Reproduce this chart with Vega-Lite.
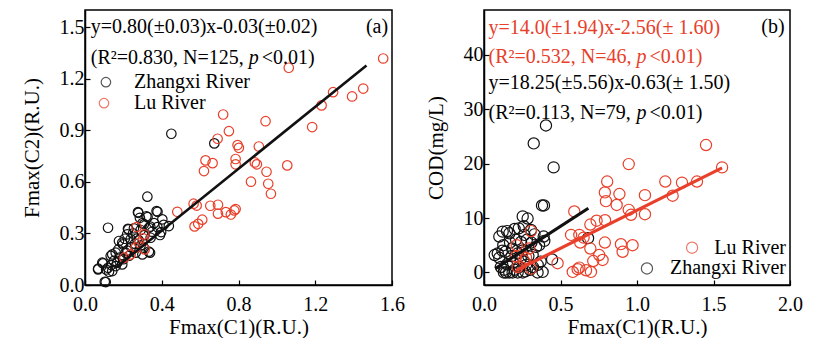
{
  "$schema": "https://vega.github.io/schema/vega-lite/v6.json",
  "padding": {"left": 20, "top": 9, "right": 0, "bottom": 0},
  "background": "white",
  "config": {
    "font": "Liberation Serif",
    "view": {"stroke": "black", "strokeWidth": 1.5},
    "axis": {
      "labelFont": "Liberation Serif", "labelFontSize": 20, "labelColor": "black",
      "titleFont": "Liberation Serif", "titleFontSize": 21, "titleFontWeight": "normal", "titleColor": "black",
      "domainColor": "black", "domainWidth": 1.5, "tickColor": "black", "tickWidth": 1.2, "tickSize": -5,
      "grid": false, "labelOverlap": false, "labelFlush": false, "labelBound": false
    },
    "axisX": {"labelPadding": 14, "titlePadding": 2},
    "axisY": {"labelPadding": 6, "titlePadding": 17},
    "text": {"font": "Liberation Serif", "fontSize": 20, "baseline": "middle"}
  },
  "datasets": {
    "one": [{"k": 1}],
    "a": [
      {"river": "Zhangxi River", "x": 0.450, "y": 0.880}, {"river": "Zhangxi River", "x": 0.674, "y": 0.824},
      {"river": "Zhangxi River", "x": 0.325, "y": 0.514}, {"river": "Zhangxi River", "x": 0.120, "y": 0.333},
      {"river": "Zhangxi River", "x": 0.276, "y": 0.424}, {"river": "Zhangxi River", "x": 0.286, "y": 0.391},
      {"river": "Zhangxi River", "x": 0.326, "y": 0.395}, {"river": "Zhangxi River", "x": 0.373, "y": 0.430},
      {"river": "Zhangxi River", "x": 0.403, "y": 0.382}, {"river": "Zhangxi River", "x": 0.377, "y": 0.337},
      {"river": "Zhangxi River", "x": 0.397, "y": 0.308}, {"river": "Zhangxi River", "x": 0.391, "y": 0.291},
      {"river": "Zhangxi River", "x": 0.437, "y": 0.343}, {"river": "Zhangxi River", "x": 0.333, "y": 0.333},
      {"river": "Zhangxi River", "x": 0.307, "y": 0.353}, {"river": "Zhangxi River", "x": 0.342, "y": 0.275},
      {"river": "Zhangxi River", "x": 0.224, "y": 0.327}, {"river": "Zhangxi River", "x": 0.207, "y": 0.269},
      {"river": "Zhangxi River", "x": 0.238, "y": 0.266}, {"river": "Zhangxi River", "x": 0.194, "y": 0.246},
      {"river": "Zhangxi River", "x": 0.174, "y": 0.207}, {"river": "Zhangxi River", "x": 0.142, "y": 0.178},
      {"river": "Zhangxi River", "x": 0.212, "y": 0.188}, {"river": "Zhangxi River", "x": 0.333, "y": 0.194},
      {"river": "Zhangxi River", "x": 0.307, "y": 0.217}, {"river": "Zhangxi River", "x": 0.264, "y": 0.188},
      {"river": "Zhangxi River", "x": 0.168, "y": 0.130}, {"river": "Zhangxi River", "x": 0.137, "y": 0.116},
      {"river": "Zhangxi River", "x": 0.194, "y": 0.120}, {"river": "Zhangxi River", "x": 0.094, "y": 0.126},
      {"river": "Zhangxi River", "x": 0.069, "y": 0.095}, {"river": "Zhangxi River", "x": 0.142, "y": 0.081},
      {"river": "Zhangxi River", "x": 0.125, "y": 0.077}, {"river": "Zhangxi River", "x": 0.103, "y": 0.019},
      {"river": "Zhangxi River", "x": 0.339, "y": 0.188}, {"river": "Zhangxi River", "x": 0.299, "y": 0.178},
      {"river": "Zhangxi River", "x": 0.220, "y": 0.295}, {"river": "Zhangxi River", "x": 0.226, "y": 0.324},
      {"river": "Zhangxi River", "x": 0.177, "y": 0.256}, {"river": "Zhangxi River", "x": 0.198, "y": 0.236},
      {"river": "Zhangxi River", "x": 0.160, "y": 0.188}, {"river": "Zhangxi River", "x": 0.134, "y": 0.169},
      {"river": "Zhangxi River", "x": 0.090, "y": 0.130}, {"river": "Zhangxi River", "x": 0.068, "y": 0.091},
      {"river": "Zhangxi River", "x": 0.108, "y": 0.017}, {"river": "Zhangxi River", "x": 0.278, "y": 0.420},
      {"river": "Zhangxi River", "x": 0.378, "y": 0.426}, {"river": "Zhangxi River", "x": 0.250, "y": 0.300},
      {"river": "Zhangxi River", "x": 0.270, "y": 0.270}, {"river": "Zhangxi River", "x": 0.290, "y": 0.320},
      {"river": "Zhangxi River", "x": 0.310, "y": 0.290}, {"river": "Zhangxi River", "x": 0.350, "y": 0.310},
      {"river": "Zhangxi River", "x": 0.360, "y": 0.360}, {"river": "Zhangxi River", "x": 0.320, "y": 0.400},
      {"river": "Zhangxi River", "x": 0.240, "y": 0.220}, {"river": "Zhangxi River", "x": 0.220, "y": 0.200},
      {"river": "Zhangxi River", "x": 0.260, "y": 0.240}, {"river": "Zhangxi River", "x": 0.290, "y": 0.230},
      {"river": "Zhangxi River", "x": 0.180, "y": 0.160}, {"river": "Zhangxi River", "x": 0.150, "y": 0.140},
      {"river": "Zhangxi River", "x": 0.120, "y": 0.100}, {"river": "Zhangxi River", "x": 0.200, "y": 0.150},
      {"river": "Zhangxi River", "x": 0.280, "y": 0.260}, {"river": "Zhangxi River", "x": 0.340, "y": 0.340},
      {"river": "Zhangxi River", "x": 0.410, "y": 0.350}, {"river": "Zhangxi River", "x": 0.300, "y": 0.360},
      {"river": "Zhangxi River", "x": 0.230, "y": 0.170}, {"river": "Zhangxi River", "x": 0.160, "y": 0.110},
      {"river": "Zhangxi River", "x": 0.110, "y": 0.090}, {"river": "Zhangxi River", "x": 0.255, "y": 0.330},
      {"river": "Lu River", "x": 1.554, "y": 1.318}, {"river": "Lu River", "x": 1.062, "y": 1.264},
      {"river": "Lu River", "x": 1.293, "y": 1.122}, {"river": "Lu River", "x": 1.450, "y": 1.143},
      {"river": "Lu River", "x": 1.392, "y": 1.097}, {"river": "Lu River", "x": 1.233, "y": 1.045},
      {"river": "Lu River", "x": 1.184, "y": 0.919}, {"river": "Lu River", "x": 0.720, "y": 0.992},
      {"river": "Lu River", "x": 0.941, "y": 0.953}, {"river": "Lu River", "x": 0.750, "y": 0.895},
      {"river": "Lu River", "x": 0.691, "y": 0.851}, {"river": "Lu River", "x": 0.795, "y": 0.814},
      {"river": "Lu River", "x": 0.802, "y": 0.798}, {"river": "Lu River", "x": 0.906, "y": 0.806},
      {"river": "Lu River", "x": 0.785, "y": 0.733}, {"river": "Lu River", "x": 0.785, "y": 0.702},
      {"river": "Lu River", "x": 0.885, "y": 0.713}, {"river": "Lu River", "x": 0.896, "y": 0.702},
      {"river": "Lu River", "x": 0.628, "y": 0.725}, {"river": "Lu River", "x": 0.665, "y": 0.709},
      {"river": "Lu River", "x": 0.620, "y": 0.663}, {"river": "Lu River", "x": 1.054, "y": 0.696},
      {"river": "Lu River", "x": 0.946, "y": 0.659}, {"river": "Lu River", "x": 0.955, "y": 0.589},
      {"river": "Lu River", "x": 0.969, "y": 0.531}, {"river": "Lu River", "x": 0.865, "y": 0.601},
      {"river": "Lu River", "x": 0.566, "y": 0.473}, {"river": "Lu River", "x": 0.582, "y": 0.462},
      {"river": "Lu River", "x": 0.653, "y": 0.461}, {"river": "Lu River", "x": 0.693, "y": 0.467},
      {"river": "Lu River", "x": 0.693, "y": 0.415}, {"river": "Lu River", "x": 0.734, "y": 0.424},
      {"river": "Lu River", "x": 0.778, "y": 0.434}, {"river": "Lu River", "x": 0.785, "y": 0.442},
      {"river": "Lu River", "x": 0.760, "y": 0.410}, {"river": "Lu River", "x": 0.481, "y": 0.426},
      {"river": "Lu River", "x": 0.611, "y": 0.380}, {"river": "Lu River", "x": 0.590, "y": 0.356},
      {"river": "Lu River", "x": 0.571, "y": 0.341}, {"river": "Lu River", "x": 0.269, "y": 0.337},
      {"river": "Lu River", "x": 0.309, "y": 0.295}, {"river": "Lu River", "x": 0.304, "y": 0.271},
      {"river": "Lu River", "x": 0.281, "y": 0.246}, {"river": "Lu River", "x": 0.264, "y": 0.217},
      {"river": "Lu River", "x": 0.311, "y": 0.207}, {"river": "Lu River", "x": 0.205, "y": 0.159},
      {"river": "Lu River", "x": 0.238, "y": 0.178}
    ],
    "la": [
      {"river": "All", "x": 0.16, "y": 0.10}, {"river": "All", "x": 1.467, "y": 1.277}
    ],
    "b": [
      {"river": "Zhangxi River", "x": 0.405, "y": 27.0}, {"river": "Zhangxi River", "x": 0.325, "y": 23.7},
      {"river": "Zhangxi River", "x": 0.455, "y": 19.3}, {"river": "Zhangxi River", "x": 0.379, "y": 12.3},
      {"river": "Zhangxi River", "x": 0.392, "y": 12.3}, {"river": "Zhangxi River", "x": 0.390, "y": 6.6},
      {"river": "Zhangxi River", "x": 0.394, "y": 5.8}, {"river": "Zhangxi River", "x": 0.445, "y": 2.4},
      {"river": "Zhangxi River", "x": 0.383, "y": 0.1}, {"river": "Zhangxi River", "x": 0.253, "y": 10.3},
      {"river": "Zhangxi River", "x": 0.285, "y": 9.9}, {"river": "Zhangxi River", "x": 0.227, "y": 8.1},
      {"river": "Zhangxi River", "x": 0.307, "y": 7.8}, {"river": "Zhangxi River", "x": 0.122, "y": 7.5},
      {"river": "Zhangxi River", "x": 0.150, "y": 7.6}, {"river": "Zhangxi River", "x": 0.166, "y": 7.2},
      {"river": "Zhangxi River", "x": 0.100, "y": 6.6}, {"river": "Zhangxi River", "x": 0.126, "y": 5.0},
      {"river": "Zhangxi River", "x": 0.183, "y": 4.4}, {"river": "Zhangxi River", "x": 0.070, "y": 3.2},
      {"river": "Zhangxi River", "x": 0.100, "y": 2.7}, {"river": "Zhangxi River", "x": 0.133, "y": 0.5},
      {"river": "Zhangxi River", "x": 0.144, "y": 0.0}, {"river": "Zhangxi River", "x": 0.165, "y": 0.0},
      {"river": "Zhangxi River", "x": 0.187, "y": 0.0}, {"river": "Zhangxi River", "x": 0.220, "y": 0.0},
      {"river": "Zhangxi River", "x": 0.253, "y": 0.0}, {"river": "Zhangxi River", "x": 0.350, "y": 0.0},
      {"river": "Zhangxi River", "x": 0.275, "y": 1.4}, {"river": "Zhangxi River", "x": 0.242, "y": 5.6},
      {"river": "Zhangxi River", "x": 0.264, "y": 6.9}, {"river": "Zhangxi River", "x": 0.318, "y": 3.2},
      {"river": "Zhangxi River", "x": 0.351, "y": 1.4}, {"river": "Zhangxi River", "x": 0.340, "y": 4.7},
      {"river": "Zhangxi River", "x": 0.680, "y": 6.3}, {"river": "Zhangxi River", "x": 0.130, "y": 0.0},
      {"river": "Zhangxi River", "x": 0.200, "y": 0.5}, {"river": "Zhangxi River", "x": 0.230, "y": 1.0},
      {"river": "Zhangxi River", "x": 0.260, "y": 2.0}, {"river": "Zhangxi River", "x": 0.290, "y": 3.0},
      {"river": "Zhangxi River", "x": 0.310, "y": 5.5}, {"river": "Zhangxi River", "x": 0.210, "y": 6.0},
      {"river": "Zhangxi River", "x": 0.180, "y": 3.0}, {"river": "Zhangxi River", "x": 0.150, "y": 1.5},
      {"river": "Zhangxi River", "x": 0.120, "y": 4.0}, {"river": "Zhangxi River", "x": 0.090, "y": 3.5},
      {"river": "Zhangxi River", "x": 0.250, "y": 4.0}, {"river": "Zhangxi River", "x": 0.280, "y": 6.0},
      {"river": "Zhangxi River", "x": 0.330, "y": 7.0}, {"river": "Zhangxi River", "x": 0.360, "y": 5.0},
      {"river": "Zhangxi River", "x": 0.300, "y": 0.5}, {"river": "Zhangxi River", "x": 0.240, "y": 2.5},
      {"river": "Zhangxi River", "x": 0.200, "y": 8.0}, {"river": "Zhangxi River", "x": 0.170, "y": 5.5},
      {"river": "Zhangxi River", "x": 0.270, "y": 0.2}, {"river": "Zhangxi River", "x": 0.320, "y": 1.0},
      {"river": "Zhangxi River", "x": 0.140, "y": 3.8}, {"river": "Zhangxi River", "x": 0.190, "y": 1.8},
      {"river": "Zhangxi River", "x": 0.220, "y": 3.5}, {"river": "Zhangxi River", "x": 0.260, "y": 8.5},
      {"river": "Zhangxi River", "x": 0.370, "y": 2.0}, {"river": "Zhangxi River", "x": 0.110, "y": 1.0},
      {"river": "Lu River", "x": 1.556, "y": 19.3}, {"river": "Lu River", "x": 1.451, "y": 23.4},
      {"river": "Lu River", "x": 1.392, "y": 16.7}, {"river": "Lu River", "x": 1.294, "y": 16.5},
      {"river": "Lu River", "x": 1.233, "y": 14.1}, {"river": "Lu River", "x": 1.185, "y": 16.7},
      {"river": "Lu River", "x": 0.946, "y": 19.9}, {"river": "Lu River", "x": 1.052, "y": 14.2},
      {"river": "Lu River", "x": 1.052, "y": 10.7}, {"river": "Lu River", "x": 0.946, "y": 11.5},
      {"river": "Lu River", "x": 0.961, "y": 10.6}, {"river": "Lu River", "x": 0.971, "y": 5.0},
      {"river": "Lu River", "x": 0.906, "y": 3.8}, {"river": "Lu River", "x": 0.895, "y": 5.2},
      {"river": "Lu River", "x": 0.885, "y": 14.4}, {"river": "Lu River", "x": 0.867, "y": 12.4},
      {"river": "Lu River", "x": 0.805, "y": 16.7}, {"river": "Lu River", "x": 0.790, "y": 14.7},
      {"river": "Lu River", "x": 0.797, "y": 13.1}, {"river": "Lu River", "x": 0.791, "y": 9.6},
      {"river": "Lu River", "x": 0.790, "y": 5.5}, {"river": "Lu River", "x": 0.736, "y": 9.5},
      {"river": "Lu River", "x": 0.695, "y": 8.8}, {"river": "Lu River", "x": 0.753, "y": 3.2},
      {"river": "Lu River", "x": 0.775, "y": 2.3}, {"river": "Lu River", "x": 0.714, "y": 2.1},
      {"river": "Lu River", "x": 0.695, "y": 4.4}, {"river": "Lu River", "x": 0.651, "y": 6.4},
      {"river": "Lu River", "x": 0.623, "y": 6.9}, {"river": "Lu River", "x": 0.629, "y": 5.5},
      {"river": "Lu River", "x": 0.569, "y": 6.9}, {"river": "Lu River", "x": 0.590, "y": 11.2},
      {"river": "Lu River", "x": 0.699, "y": 0.1}, {"river": "Lu River", "x": 0.667, "y": 0.4},
      {"river": "Lu River", "x": 0.623, "y": 0.9}, {"river": "Lu River", "x": 0.612, "y": 0.6},
      {"river": "Lu River", "x": 0.580, "y": 0.1}, {"river": "Lu River", "x": 0.481, "y": 1.7},
      {"river": "Lu River", "x": 0.307, "y": 7.6}, {"river": "Lu River", "x": 0.296, "y": 4.4},
      {"river": "Lu River", "x": 0.307, "y": 0.7}, {"river": "Lu River", "x": 0.275, "y": 2.7},
      {"river": "Lu River", "x": 0.209, "y": 2.9}, {"river": "Lu River", "x": 0.214, "y": 5.0},
      {"river": "Lu River", "x": 0.220, "y": 1.0}, {"river": "Lu River", "x": 0.260, "y": 2.2}
    ],
    "lb": [
      {"river": "Lu River", "x": 0.209, "y": 0.37}, {"river": "Lu River", "x": 1.556, "y": 19.2},
      {"river": "Zhangxi River", "x": 0.074, "y": 0.72}, {"river": "Zhangxi River", "x": 0.682, "y": 11.8}
    ]
  },
  "hconcat": [
    {
      "width": 307, "height": 275,
      "layer": [
        {
          "data": {"name": "a"},
          "mark": {"type": "point", "shape": "circle", "filled": false, "size": 90, "strokeWidth": 1.2, "opacity": 1},
          "encoding": {
            "x": {"field": "x", "type": "quantitative", "scale": {"domain": [0, 1.6], "nice": false, "zero": false},
                  "axis": {"title": "Fmax(C1)(R.U.)", "values": [0, 0.2, 0.4, 0.6, 0.8, 1.0, 1.2, 1.4, 1.6],
                           "labelExpr": "indexof(['0.0','0.4','0.8','1.2','1.6'], format(datum.value,'.1f')) >= 0 ? format(datum.value,'.1f') : ''"}},
            "y": {"field": "y", "type": "quantitative", "scale": {"domain": [0, 1.6], "nice": false, "zero": false},
                  "axis": {"title": "Fmax(C2)(R.U.)", "values": [0, 0.15, 0.3, 0.45, 0.6, 0.75, 0.9, 1.05, 1.2, 1.35, 1.5],
                           "labelExpr": "indexof(['0.0','0.3','0.6','0.9','1.2','1.5'], format(datum.value,'.1f')) >= 0 && abs(datum.value*10 - round(datum.value*10)) < 0.01 ? format(datum.value,'.1f') : ''"}},
            "color": {"field": "river", "type": "nominal", "scale": {"domain": ["Zhangxi River", "Lu River", "All"], "range": ["#111111", "#e8402a", "#111111"]}, "legend": null}
          }
        },
        {
          "data": {"name": "la"},
          "mark": {"type": "line", "strokeWidth": 2.6, "color": "#111111"},
          "encoding": {"x": {"field": "x", "type": "quantitative"}, "y": {"field": "y", "type": "quantitative"}}
        },
        {
          "data": {"name": "one"},
          "mark": {"type": "text", "align": "left", "color": "black"},
          "encoding": {"x": {"datum": 0.03, "type": "quantitative"}, "y": {"datum": 1.5, "type": "quantitative"}, "text": {"value": "y=0.80(±0.03)x-0.03(±0.02)"}}
        },
        {
          "data": {"name": "one"},
          "mark": {"type": "text", "align": "left", "color": "black"},
          "encoding": {"x": {"datum": 0.03, "type": "quantitative"}, "y": {"datum": 1.32, "type": "quantitative"}, "text": {"value": "(R²=0.830, N=125, "}}
        },
        {
          "data": {"name": "one"},
          "mark": {"type": "text", "align": "left", "color": "black", "fontStyle": "italic"},
          "encoding": {"x": {"datum": 0.853, "type": "quantitative"}, "y": {"datum": 1.32, "type": "quantitative"}, "text": {"value": "p"}}
        },
        {
          "data": {"name": "one"},
          "mark": {"type": "text", "align": "left", "color": "black"},
          "encoding": {"x": {"datum": 0.921, "type": "quantitative"}, "y": {"datum": 1.32, "type": "quantitative"}, "text": {"value": "<0.01)"}}
        },
        {
          "data": {"name": "one"},
          "mark": {"type": "text", "align": "right", "color": "black"},
          "encoding": {"x": {"datum": 1.58, "type": "quantitative"}, "y": {"datum": 1.5, "type": "quantitative"}, "text": {"value": "(a)"}}
        },
        {
          "data": {"name": "one"},
          "mark": {"type": "point", "shape": "circle", "filled": false, "size": 90, "strokeWidth": 1.2, "color": "#111111"},
          "encoding": {"x": {"datum": 0.109, "type": "quantitative"}, "y": {"datum": 1.18, "type": "quantitative"}}
        },
        {
          "data": {"name": "one"},
          "mark": {"type": "point", "shape": "circle", "filled": false, "size": 90, "strokeWidth": 1.2, "color": "#e8402a"},
          "encoding": {"x": {"datum": 0.099, "type": "quantitative"}, "y": {"datum": 1.058, "type": "quantitative"}}
        },
        {
          "data": {"name": "one"},
          "mark": {"type": "text", "align": "left", "color": "black"},
          "encoding": {"x": {"datum": 0.255, "type": "quantitative"}, "y": {"datum": 1.18, "type": "quantitative"}, "text": {"value": "Zhangxi River"}}
        },
        {
          "data": {"name": "one"},
          "mark": {"type": "text", "align": "left", "color": "black"},
          "encoding": {"x": {"datum": 0.255, "type": "quantitative"}, "y": {"datum": 1.058, "type": "quantitative"}, "text": {"value": "Lu River"}}
        }
      ]
    },
    {
      "width": 306, "height": 275,
      "layer": [
        {
          "data": {"name": "b"},
          "mark": {"type": "point", "shape": "circle", "filled": false, "size": 125, "strokeWidth": 1.2, "opacity": 1},
          "encoding": {
            "x": {"field": "x", "type": "quantitative", "scale": {"domain": [0, 2.0], "nice": false, "zero": false},
                  "axis": {"title": "Fmax(C1)(R.U.)", "values": [0, 0.25, 0.5, 0.75, 1.0, 1.25, 1.5, 1.75, 2.0],
                           "labelExpr": "abs(datum.value*2 - round(datum.value*2)) < 0.01 ? format(datum.value,'.1f') : ''"}},
            "y": {"field": "y", "type": "quantitative", "scale": {"domain": [-2.3, 48.2], "nice": false, "zero": false},
                  "axis": {"title": "COD(mg/L)", "values": [0, 5, 10, 15, 20, 25, 30, 35, 40, 45],
                           "labelExpr": "datum.value % 10 == 0 ? format(datum.value,'d') : ''"}},
            "color": {"field": "river", "type": "nominal", "scale": {"domain": ["Zhangxi River", "Lu River"], "range": ["#111111", "#e8402a"]}, "legend": null}
          }
        },
        {
          "data": {"name": "lb"},
          "mark": {"type": "line", "strokeWidth": 3.2},
          "encoding": {
            "x": {"field": "x", "type": "quantitative"}, "y": {"field": "y", "type": "quantitative"},
            "color": {"field": "river", "type": "nominal", "scale": {"domain": ["Zhangxi River", "Lu River"], "range": ["#111111", "#e8402a"]}, "legend": null}
          }
        },
        {
          "data": {"name": "one"},
          "mark": {"type": "text", "align": "left", "color": "#e8402a"},
          "encoding": {"x": {"datum": 0.03, "type": "quantitative"}, "y": {"datum": 44.9, "type": "quantitative"}, "text": {"value": "y=14.0(±1.94)x-2.56(± 1.60)"}}
        },
        {
          "data": {"name": "one"},
          "mark": {"type": "text", "align": "left", "color": "#e8402a"},
          "encoding": {"x": {"datum": 0.03, "type": "quantitative"}, "y": {"datum": 39.5, "type": "quantitative"}, "text": {"value": "(R²=0.532, N=46, "}}
        },
        {
          "data": {"name": "one"},
          "mark": {"type": "text", "align": "left", "color": "#e8402a", "fontStyle": "italic"},
          "encoding": {"x": {"datum": 0.997, "type": "quantitative"}, "y": {"datum": 39.5, "type": "quantitative"}, "text": {"value": "p"}}
        },
        {
          "data": {"name": "one"},
          "mark": {"type": "text", "align": "left", "color": "#e8402a"},
          "encoding": {"x": {"datum": 1.082, "type": "quantitative"}, "y": {"datum": 39.5, "type": "quantitative"}, "text": {"value": "<0.01)"}}
        },
        {
          "data": {"name": "one"},
          "mark": {"type": "text", "align": "left", "color": "black"},
          "encoding": {"x": {"datum": 0.03, "type": "quantitative"}, "y": {"datum": 34.8, "type": "quantitative"}, "text": {"value": "y=18.25(±5.56)x-0.63(± 1.50)"}}
        },
        {
          "data": {"name": "one"},
          "mark": {"type": "text", "align": "left", "color": "black"},
          "encoding": {"x": {"datum": 0.03, "type": "quantitative"}, "y": {"datum": 29.3, "type": "quantitative"}, "text": {"value": "(R²=0.113, N=79, "}}
        },
        {
          "data": {"name": "one"},
          "mark": {"type": "text", "align": "left", "color": "black", "fontStyle": "italic"},
          "encoding": {"x": {"datum": 0.997, "type": "quantitative"}, "y": {"datum": 29.3, "type": "quantitative"}, "text": {"value": "p"}}
        },
        {
          "data": {"name": "one"},
          "mark": {"type": "text", "align": "left", "color": "black"},
          "encoding": {"x": {"datum": 1.082, "type": "quantitative"}, "y": {"datum": 29.3, "type": "quantitative"}, "text": {"value": "<0.01)"}}
        },
        {
          "data": {"name": "one"},
          "mark": {"type": "text", "align": "right", "color": "black"},
          "encoding": {"x": {"datum": 1.965, "type": "quantitative"}, "y": {"datum": 45.0, "type": "quantitative"}, "text": {"value": "(b)"}}
        },
        {
          "data": {"name": "one"},
          "mark": {"type": "point", "shape": "circle", "filled": false, "size": 125, "strokeWidth": 1.2, "color": "#e8402a"},
          "encoding": {"x": {"datum": 1.36, "type": "quantitative"}, "y": {"datum": 4.55, "type": "quantitative"}}
        },
        {
          "data": {"name": "one"},
          "mark": {"type": "point", "shape": "circle", "filled": false, "size": 125, "strokeWidth": 1.2, "color": "#111111"},
          "encoding": {"x": {"datum": 1.065, "type": "quantitative"}, "y": {"datum": 0.74, "type": "quantitative"}}
        },
        {
          "data": {"name": "one"},
          "mark": {"type": "text", "align": "right", "color": "black"},
          "encoding": {"x": {"datum": 1.974, "type": "quantitative"}, "y": {"datum": 4.55, "type": "quantitative"}, "text": {"value": "Lu River"}}
        },
        {
          "data": {"name": "one"},
          "mark": {"type": "text", "align": "right", "color": "black"},
          "encoding": {"x": {"datum": 1.974, "type": "quantitative"}, "y": {"datum": 0.74, "type": "quantitative"}, "text": {"value": "Zhangxi River"}}
        }
      ]
    }
  ],
  "spacing": 92,
  "bounds": "flush"
}
